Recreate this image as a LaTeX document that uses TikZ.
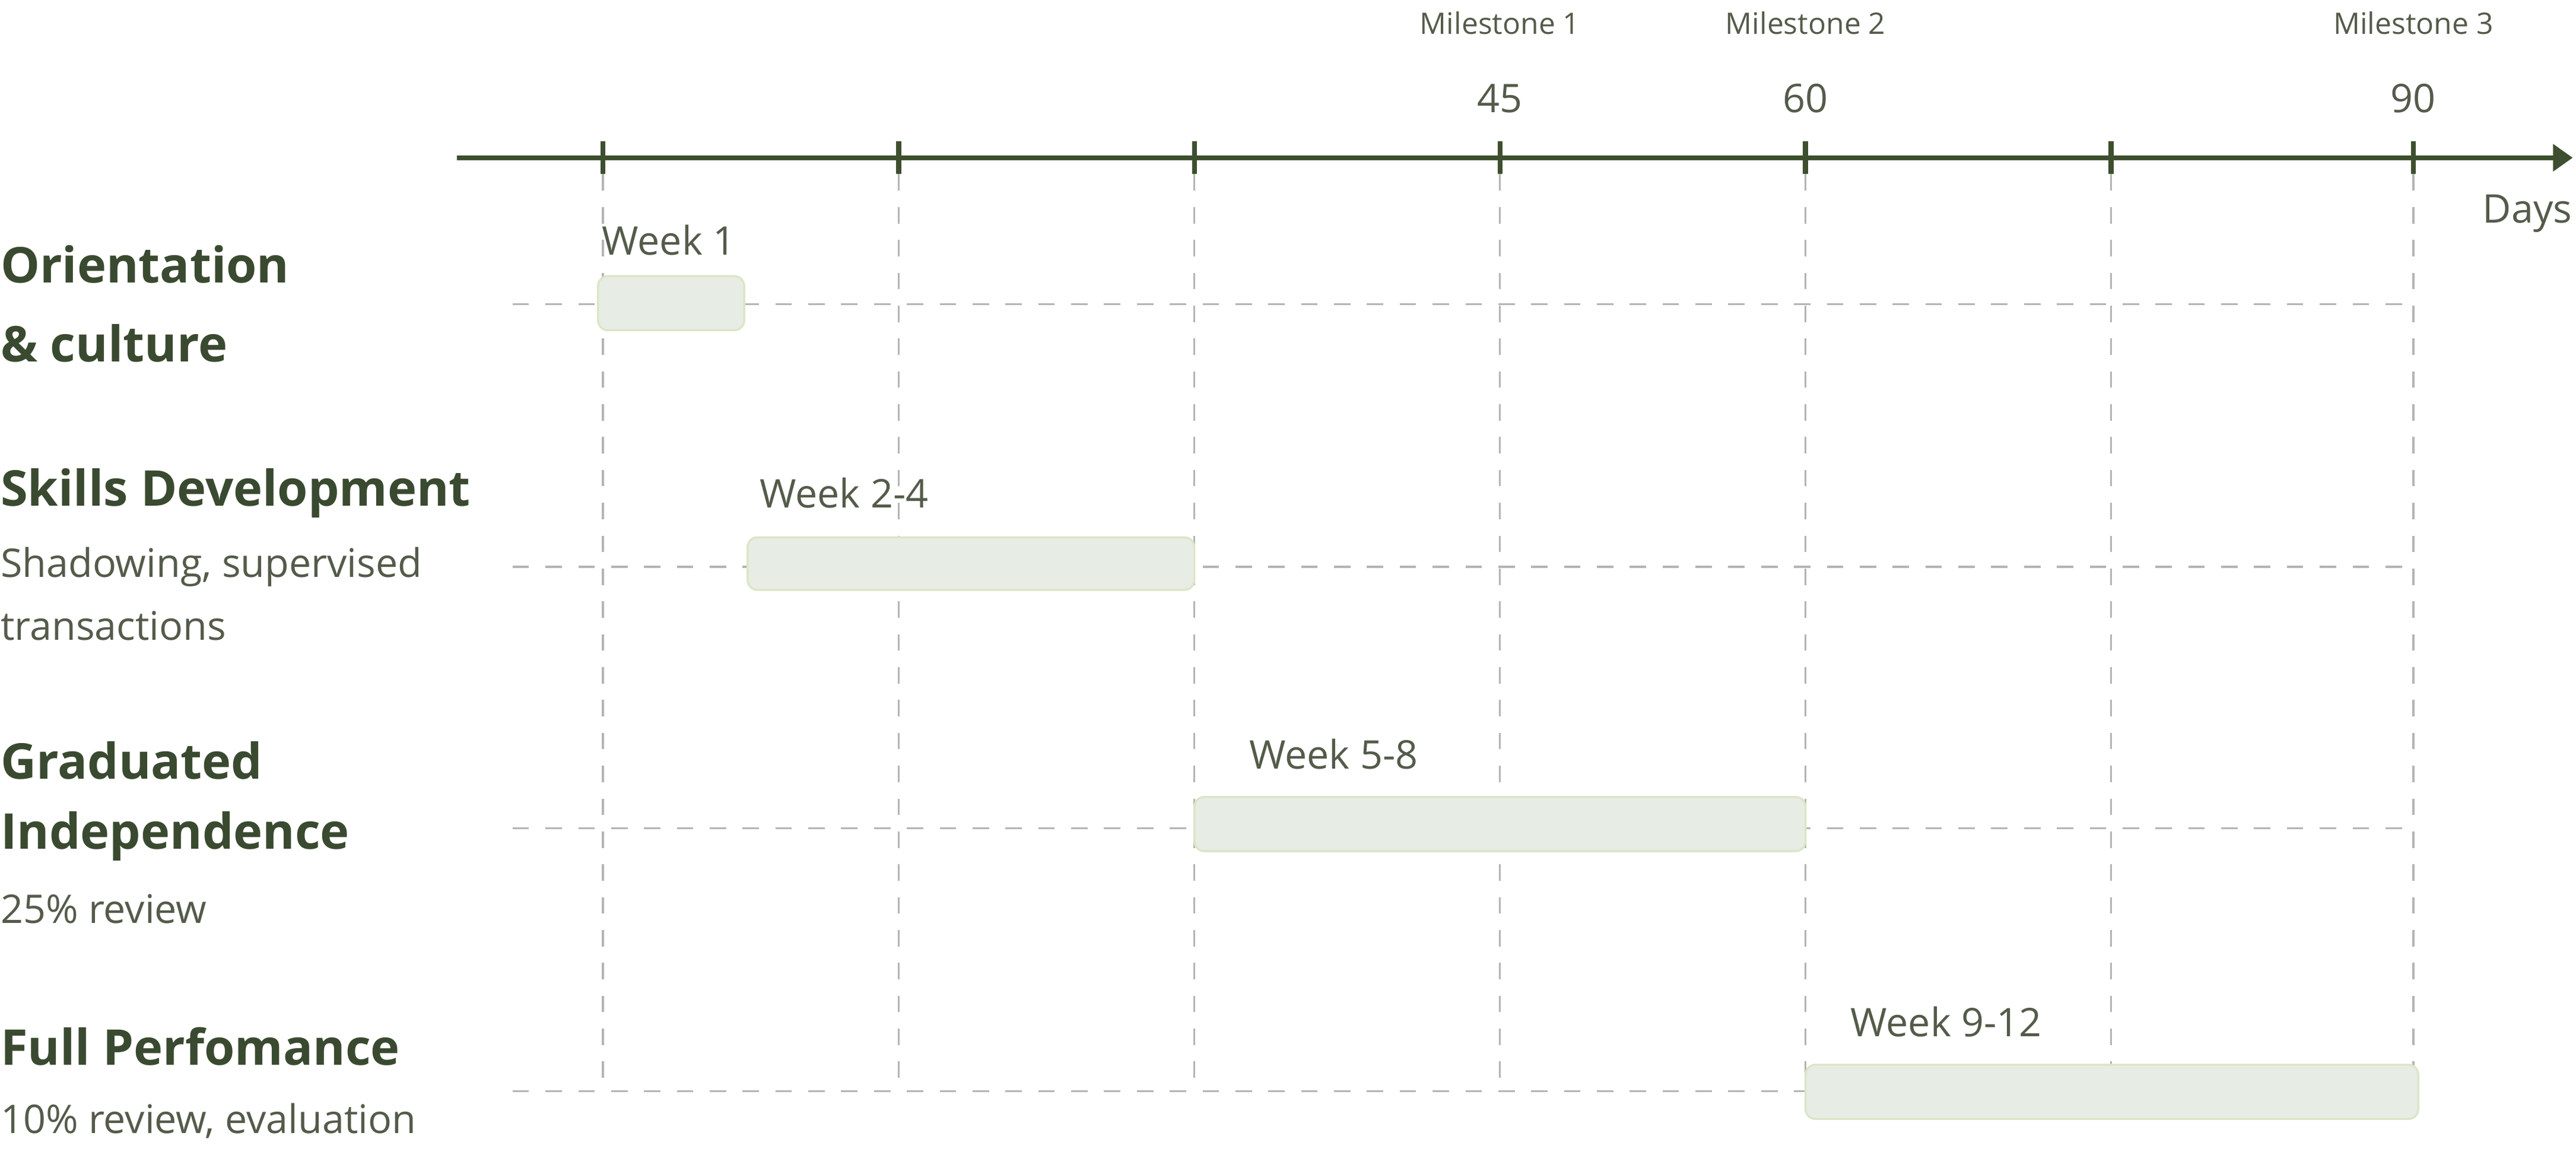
\documentclass[tikz,border=0pt]{standalone}
\usepackage{fontspec}
\setmainfont{Open Sans}
\usepackage{xcolor}
\usetikzlibrary{arrows.meta}
\definecolor{axisgreen}{HTML}{3D4F2E}
\definecolor{headgreen}{HTML}{3A4A30}
\definecolor{textgrey}{HTML}{545B4A}
\definecolor{gridgrey}{HTML}{B4B4B4}
\definecolor{barfill}{HTML}{E7ECE4}
\definecolor{baredge}{HTML}{DCE5C6}
\tikzset{
  gridline/.style={gridgrey,line width=0.6pt,dash pattern=on 5pt off 5pt},
  bar/.style={fill=barfill,draw=baredge,line width=0.6pt,rounded corners=3pt},
  head/.style={anchor=west,inner sep=0pt,text=headgreen,font=\fontsize{15}{18}\selectfont\bfseries},
  sub/.style={anchor=west,inner sep=0pt,text=textgrey,font=\fontsize{12}{14}\selectfont},
  week/.style={anchor=west,inner sep=0pt,text=textgrey,font=\fontsize{12}{14}\selectfont},
  mile/.style={inner sep=0pt,text=textgrey,font=\fontsize{9}{11}\selectfont},
  daynum/.style={inner sep=0pt,text=textgrey,font=\fontsize{12}{14}\selectfont},
}

\begin{document}
\begin{tikzpicture}[x=0.5pt,y=-0.5pt]
\useasboundingbox (0,0) rectangle (1568,701);
\begin{scope}[>={Stealth[length=6pt,width=8pt,inset=0pt]}]
    % grid
    \foreach \gx in {367,547,727,913,1099,1285,1469}
        \draw[gridline] (\gx,106) -- (\gx,664);
    \foreach \gy in {185,345,504,664}
        \draw[gridline] (312,\gy) -- (1469,\gy);

    % axis
    \coordinate (axstart) at (278,96);
    \coordinate (axend) at (1566,96);
    \draw[axisgreen,line width=1.5pt,->] (axstart) -- (axend);
    \foreach \gx in {367,547,727,913,1099,1285,1469}
        \draw[axisgreen,line width=1.5pt] (\gx,86) -- (\gx,106);
    \node[daynum] (d45) at (913,60) {45};
    \node[daynum] (d60) at (1099,60) {60};
    \node[daynum] (d90) at (1469,60) {90};
    \node[mile] (m1) at (913,14) {Milestone 1};
    \node[mile] (m2) at (1099,14) {Milestone 2};
    \node[mile] (m3) at (1469,14) {Milestone 3};
    \node[daynum,anchor=east] (days) at (1566,130) {Days};

    % bars
    \draw[bar] (364,168) rectangle (453,201);
    \draw[bar] (455,327) rectangle (727,359);
    \draw[bar] (727,485) rectangle (1099,518);
    \draw[bar] (1099,648) rectangle (1472,681);
    \node[week] (w1) at (366,146) {Week 1};
    \node[week] (w2) at (462,300) {Week 2-4};
    \node[week] (w3) at (760,459) {Week 5-8};
    \node[week] (w4) at (1126,622) {Week 9-12};

    % phases
    \node[head] (orient) at (0,161) {Orientation};
    \node[head] (cult) at (0,209) {\& culture};
    \node[head] (skills) at (0,300) {Skills Development};
    \node[sub] (shadow) at (0,345) {Shadowing, supervised};
    \node[sub] (trans) at (0,381) {transactions};
    \node[head] (grad) at (0,463) {Graduated};
    \node[head] (indep) at (0,509) {Independence};
    \node[sub] (rev25) at (0,553) {25\% review};
    \node[head] (full) at (0,637) {Full Perfomance};
    \node[sub] (rev10) at (0,682) {10\% review, evaluation};
\end{scope}
\end{tikzpicture}
\end{document}
